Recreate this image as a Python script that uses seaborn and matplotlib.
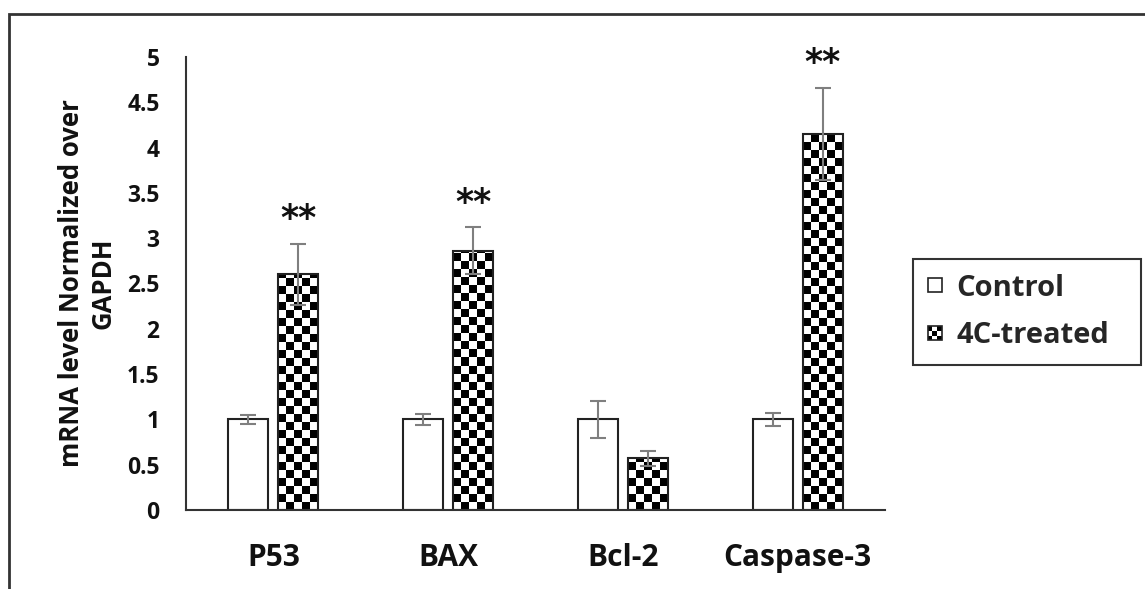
import numpy as np
import pandas as pd
import matplotlib
matplotlib.use("Agg")
import matplotlib.pyplot as plt
import seaborn as sns
from matplotlib.patches import Rectangle, Patch
from matplotlib.colors import ListedColormap
from matplotlib.legend_handler import HandlerBase

# ---------------- data ----------------
genes = ["P53", "BAX", "Bcl-2", "Caspase-3"]
groups = ["Control", "4C-treated"]
control_vals = [1.0, 1.0, 1.0, 1.0]
control_err = [0.05, 0.06, 0.20, 0.07]
treated_vals = [2.60, 2.86, 0.57, 4.15]
treated_err = [0.34, 0.26, 0.08, 0.51]
treated_sig = ["**", "**", "", "**"]
yticks = [0, 0.5, 1, 1.5, 2, 2.5, 3, 3.5, 4, 4.5, 5]
ytick_labels = ["0", "0.5", "1", "1.5", "2", "2.5", "3", "3.5", "4", "4.5", "5"]
ylabel = "mRNA level Normalized over\nGAPDH"

df = pd.DataFrame({
    "gene": genes * 2,
    "group": [groups[0]] * len(genes) + [groups[1]] * len(genes),
    "value": control_vals + treated_vals,
})

# ---------------- style ----------------
sns.set_theme(style="white")
FONT = ["Open Sans", "DejaVu Sans"]
plt.rcParams["font.family"] = FONT
plt.rcParams["font.weight"] = "bold"

W, H = 1145, 589
fig = plt.figure(figsize=(W / 100, H / 100), dpi=100)
ax = fig.add_axes([186 / W, 1 - 510 / H, (885 - 186) / W, (510 - 57) / H])

sns.barplot(data=df, x="gene", y="value", hue="group", order=genes,
            hue_order=groups, width=0.571, gap=0.2, errorbar=None,
            palette=["white", "white"], edgecolor="#222222", linewidth=1.5,
            legend=False, ax=ax)

ax.set_xlim(-0.5, 3.5)
ax.set_ylim(0, 5)

ctrl_bars = list(ax.containers[0])
trt_bars = list(ax.containers[1])

# checkerboard fill for treated bars
cw, ch = 0.0457, 0.0883
cmap = ListedColormap(["white", "black"])
for p in trt_bars:
    x0 = p.get_x()
    w = p.get_width()
    h = p.get_height()
    nx = int(np.ceil(w / cw))
    ny = int(np.ceil(h / ch))
    ii, jj = np.meshgrid(np.arange(nx), np.arange(ny))
    arr = ((ii + jj) % 2).astype(float)
    p.set_facecolor("none")
    p.set_zorder(2)
    im = ax.imshow(arr, cmap=cmap, vmin=0, vmax=1, origin="lower",
                   extent=(x0, x0 + nx * cw, 0, ny * ch), aspect="auto",
                   interpolation="nearest", zorder=1.5)
    im.set_clip_path(p)

ax.set_xlim(-0.5, 3.5)
ax.set_ylim(0, 5)

# error bars
for bars, vals, errs in ((ctrl_bars, control_vals, control_err),
                         (trt_bars, treated_vals, treated_err)):
    xs = [b.get_x() + b.get_width() / 2 for b in bars]
    ax.errorbar(xs, vals, yerr=errs, fmt="none", ecolor="#7f7f7f",
                elinewidth=1.5, capsize=6, capthick=1.5, zorder=3)

# significance marks
for b, v, e, s in zip(trt_bars, treated_vals, treated_err, treated_sig):
    if s:
        ax.text(b.get_x() + b.get_width() / 2, v + e + 0.27, s,
                ha="center", va="center", fontsize=25, fontweight="bold",
                color="#111111", family=["DejaVu Sans"])

# axes styling
for side in ("top", "right"):
    ax.spines[side].set_visible(False)
for side in ("left", "bottom"):
    ax.spines[side].set_color("#333333")
    ax.spines[side].set_linewidth(1.5)
ax.set_yticks(yticks)
ax.set_yticklabels(ytick_labels, fontsize=16.5, fontweight="bold",
                   color="#111111")
ax.set_xticks(range(len(genes)))
ax.set_xticklabels(genes, fontsize=21.5, fontweight="bold", color="#111111")
ax.tick_params(axis="y", length=0, pad=19)
ax.tick_params(axis="x", length=0, pad=24)
ax.set_xlabel("")
ax.set_ylabel(ylabel, fontsize=18.5, fontweight="bold", color="#111111",
              labelpad=8, linespacing=1.2)


# legend with custom checker handles
class SquareHandler(HandlerBase):
    def __init__(self, checker=False):
        super().__init__()
        self.checker = checker

    def create_artists(self, legend, orig_handle, xdescent, ydescent,
                       width, height, fontsize, trans):
        s = min(width, height)
        x0 = -xdescent + (width - s) / 2
        y0 = -ydescent + (height - s) / 2
        arts = []
        if self.checker:
            n = 3
            c = s / n
            for i in range(n):
                for j in range(n):
                    col = "black" if (i + j) % 2 == 0 else "white"
                    arts.append(Rectangle((x0 + i * c, y0 + j * c), c, c,
                                          facecolor=col, edgecolor="none",
                                          transform=trans))
        else:
            arts.append(Rectangle((x0, y0), s, s, facecolor="white",
                                  edgecolor="none", transform=trans))
        arts.append(Rectangle((x0, y0), s, s, facecolor="none",
                              edgecolor="#222222", linewidth=1.2,
                              transform=trans))
        return arts


h_ctrl = Patch(facecolor="white", edgecolor="black", label=groups[0])
h_trt = Patch(facecolor="black", edgecolor="black", label=groups[1])
leg = fig.legend(handles=[h_ctrl, h_trt], labels=groups,
                 handler_map={h_ctrl: SquareHandler(False),
                              h_trt: SquareHandler(True)},
                 loc="center left",
                 bbox_to_anchor=(913 / W, 1 - 372 / H, (1141 - 913) / W, (372 - 252) / H),
                 mode="expand", frameon=True, fancybox=False, framealpha=1,
                 edgecolor="#333333", prop={"size": 21, "weight": "bold"},
                 handlelength=0.5, handleheight=0.5, handletextpad=0.5,
                 labelspacing=0.65, borderpad=0.5, borderaxespad=0)
leg.get_frame().set_linewidth(1.5)

# outer frame
fig.patches.append(Rectangle((9 / W, -0.05), 1.2, 1 - 14 / H + 0.05,
                             transform=fig.transFigure, fill=False,
                             edgecolor="#333333", linewidth=2))

fig.savefig("out.png", dpi=100)
